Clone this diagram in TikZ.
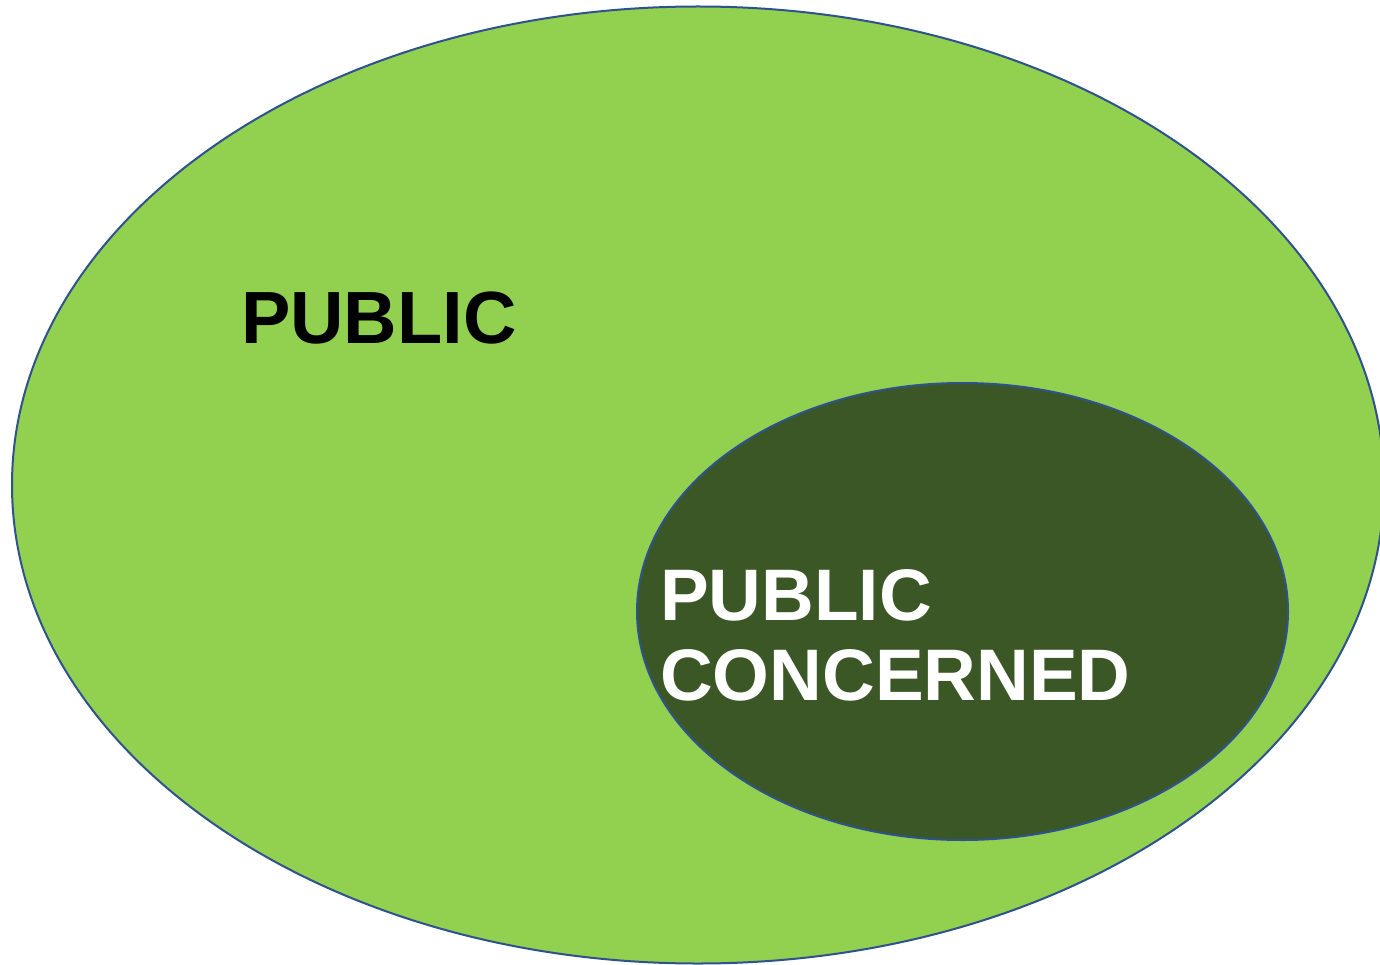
\documentclass[tikz,border=0pt]{standalone}
\usepackage{fontspec}
\setmainfont{Liberation Sans}
\usetikzlibrary{shapes.geometric}
\definecolor{outerfill}{HTML}{92D050}
\definecolor{innerfill}{HTML}{3A5725}
\definecolor{edge}{HTML}{2F528F}
\tikzset{
  blob/.style={ellipse, draw=edge, line width=2pt, inner sep=0pt},
  label/.style={inner sep=0pt, anchor=base west, align=left,
    font=\fontsize{74}{80}\selectfont\bfseries}
}
\begin{document}
\begin{tikzpicture}[x=1pt,y=-1pt]
\useasboundingbox (0,0) rectangle (1380,965);
\clip (0,0) rectangle (1380,965);
\fill[white] (0,0) rectangle (1380,965);
\node[blob, fill=outerfill, minimum width=1372pt, minimum height=957pt] (outer) at (698,485) {};
\node[blob, fill=innerfill, minimum width=651pt, minimum height=457pt] (inner) at (962.5,611.5) {};
\node[label, text=black] (public) at (241,343) {PUBLIC};
\node[label, text=white, font=\fontsize{73}{80}\selectfont\bfseries] (concerned) at (660,700) {PUBLIC\\CONCERNED};
\end{tikzpicture}
\end{document}
